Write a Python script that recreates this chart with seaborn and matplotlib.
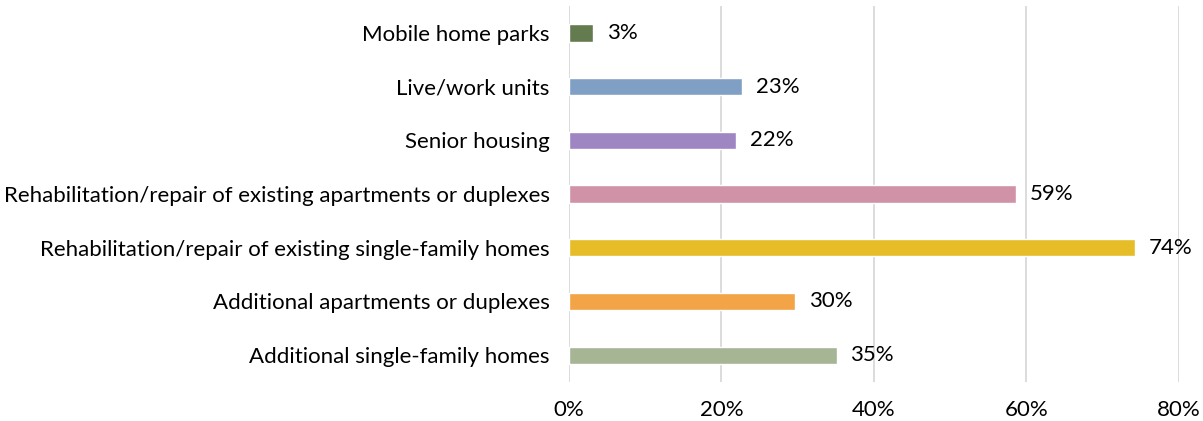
import pandas as pd
import matplotlib
matplotlib.use("Agg")
import matplotlib.pyplot as plt
import seaborn as sns
from matplotlib.ticker import PercentFormatter

categories = [
    "Mobile home parks",
    "Live/work units",
    "Senior housing",
    "Rehabilitation/repair of existing apartments or duplexes",
    "Rehabilitation/repair of existing single-family homes",
    "Additional apartments or duplexes",
    "Additional single-family homes",
]
values = [3.1, 22.7, 21.9, 58.6, 74.2, 29.6, 35.1]
colors = ["#647a4f", "#7fa0c4", "#9e86c2", "#d092a6", "#e6bc27", "#f2a446", "#a6b593"]

df = pd.DataFrame({"category": categories, "value": values})

sns.set_theme(style="white")
plt.rcParams["font.family"] = ["Lato", "DejaVu Sans"]

fig = plt.figure(figsize=(12.03, 4.21), dpi=100)
ax = fig.add_axes([0.473, 0.0926, 0.507, 0.893])

sns.barplot(
    data=df, x="value", y="category", hue="category", order=categories,
    palette=dict(zip(categories, colors)), width=0.32, legend=False,
    saturation=1, ax=ax,
)

for cont in ax.containers:
    ax.bar_label(cont, labels=[f"{v:.0f}%" for v in cont.datavalues],
                 padding=10, fontsize=16, color="black")

ax.set_xlim(0, 80)
ax.set_xticks([0, 20, 40, 60, 80])
ax.xaxis.set_major_formatter(PercentFormatter(decimals=0))
ax.grid(axis="x", color="#d9d9d9", linewidth=1.3)
ax.set_axisbelow(True)
ax.set_xlabel("")
ax.set_ylabel("")
for s in ax.spines.values():
    s.set_visible(False)
ax.tick_params(axis="both", length=0, labelsize=16, colors="black")
ax.tick_params(axis="x", pad=13)
ax.tick_params(axis="y", pad=14)

fig.savefig("out.png", dpi=100)
